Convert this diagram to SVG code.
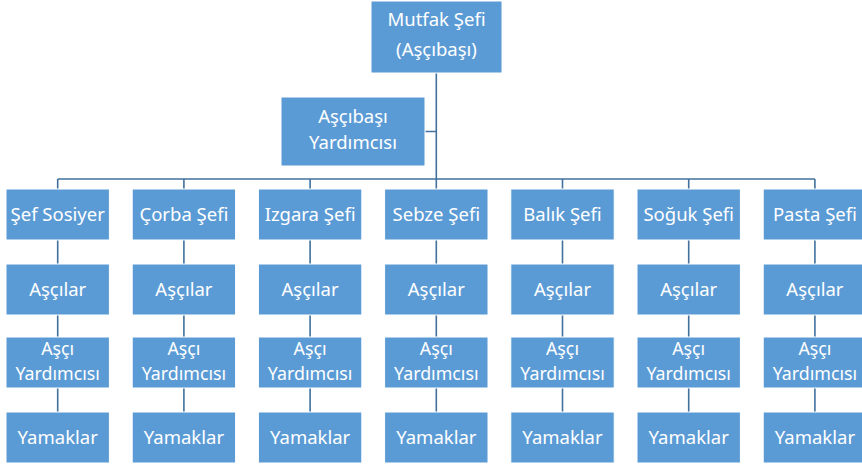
<svg xmlns="http://www.w3.org/2000/svg" width="862" height="466" viewBox="0 0 862 466">
<style>
.box{fill:#5B9BD5;stroke:#FFFFFF;stroke-width:1}
.t{font-family:"Noto Sans","DejaVu Sans",sans-serif;font-size:18.5px;fill:#FFFFFF;text-anchor:middle}
.s{font-size:17.8px}
.c{stroke:#41719C;stroke-width:1.6;fill:none}
</style>
<rect width="862" height="466" fill="#FFFFFF"/>
<g id="connectors">
<path class="c" d="M436.3 73V179M425 131.5H436.3M57.7 179H814.9"/>
<path class="c" d="M57.7 179V189M183.9 179V189M310.1 179V189M436.3 179V189M562.5 179V189M688.7 179V189M814.9 179V189"/>
<path class="c" d="M57.7 240V264M57.7 315V337M57.7 388V412"/>
<path class="c" d="M183.9 240V264M183.9 315V337M183.9 388V412"/>
<path class="c" d="M310.1 240V264M310.1 315V337M310.1 388V412"/>
<path class="c" d="M436.3 240V264M436.3 315V337M436.3 388V412"/>
<path class="c" d="M562.5 240V264M562.5 315V337M562.5 388V412"/>
<path class="c" d="M688.7 240V264M688.7 315V337M688.7 388V412"/>
<path class="c" d="M814.9 240V264M814.9 315V337M814.9 388V412"/>
</g>
<g id="mutfak-sefi"><rect class="box" x="371" y="1" width="131" height="72"/><text class="t" x="436.5" y="26">Mutfak Şefi</text><text class="t" x="436.5" y="56">(Aşçıbaşı)</text></g>
<g id="ascibasi-yardimcisi"><rect class="box" x="281" y="97" width="144" height="69"/><text class="t" x="353" y="123">Aşçıbaşı</text><text class="t" x="353" y="148.5">Yardımcısı</text></g>

<g id="sef-sosiyer"><rect class="box" x="6" y="189" width="103.4" height="51"/><text class="t" x="57.7" y="221">Şef Sosiyer</text></g>
<g id="corba-sefi"><rect class="box" x="132.2" y="189" width="103.4" height="51"/><text class="t" x="183.9" y="221">Çorba Şefi</text></g>
<g id="izgara-sefi"><rect class="box" x="258.4" y="189" width="103.4" height="51"/><text class="t" x="310.1" y="221">Izgara Şefi</text></g>
<g id="sebze-sefi"><rect class="box" x="384.6" y="189" width="103.4" height="51"/><text class="t" x="436.3" y="221">Sebze Şefi</text></g>
<g id="balik-sefi"><rect class="box" x="510.8" y="189" width="103.4" height="51"/><text class="t" x="562.5" y="221">Balık Şefi</text></g>
<g id="soguk-sefi"><rect class="box" x="637" y="189" width="103.4" height="51"/><text class="t" x="688.7" y="221">Soğuk Şefi</text></g>
<g id="pasta-sefi"><rect class="box" x="763.2" y="189" width="103.4" height="51"/><text class="t" x="814.9" y="221">Pasta Şefi</text></g>

<g id="ascilar-1"><rect class="box" x="6" y="264" width="103.4" height="51"/><text class="t" x="57.7" y="296">Aşçılar</text></g>
<g id="ascilar-2"><rect class="box" x="132.2" y="264" width="103.4" height="51"/><text class="t" x="183.9" y="296">Aşçılar</text></g>
<g id="ascilar-3"><rect class="box" x="258.4" y="264" width="103.4" height="51"/><text class="t" x="310.1" y="296">Aşçılar</text></g>
<g id="ascilar-4"><rect class="box" x="384.6" y="264" width="103.4" height="51"/><text class="t" x="436.3" y="296">Aşçılar</text></g>
<g id="ascilar-5"><rect class="box" x="510.8" y="264" width="103.4" height="51"/><text class="t" x="562.5" y="296">Aşçılar</text></g>
<g id="ascilar-6"><rect class="box" x="637" y="264" width="103.4" height="51"/><text class="t" x="688.7" y="296">Aşçılar</text></g>
<g id="ascilar-7"><rect class="box" x="763.2" y="264" width="103.4" height="51"/><text class="t" x="814.9" y="296">Aşçılar</text></g>

<g id="asci-yardimcisi-1"><rect class="box" x="6" y="337" width="103.4" height="51"/><text class="t s" x="57.7" y="355">Aşçı</text><text class="t s" x="57.7" y="380">Yardımcısı</text></g>
<g id="asci-yardimcisi-2"><rect class="box" x="132.2" y="337" width="103.4" height="51"/><text class="t s" x="183.9" y="355">Aşçı</text><text class="t s" x="183.9" y="380">Yardımcısı</text></g>
<g id="asci-yardimcisi-3"><rect class="box" x="258.4" y="337" width="103.4" height="51"/><text class="t s" x="310.1" y="355">Aşçı</text><text class="t s" x="310.1" y="380">Yardımcısı</text></g>
<g id="asci-yardimcisi-4"><rect class="box" x="384.6" y="337" width="103.4" height="51"/><text class="t s" x="436.3" y="355">Aşçı</text><text class="t s" x="436.3" y="380">Yardımcısı</text></g>
<g id="asci-yardimcisi-5"><rect class="box" x="510.8" y="337" width="103.4" height="51"/><text class="t s" x="562.5" y="355">Aşçı</text><text class="t s" x="562.5" y="380">Yardımcısı</text></g>
<g id="asci-yardimcisi-6"><rect class="box" x="637" y="337" width="103.4" height="51"/><text class="t s" x="688.7" y="355">Aşçı</text><text class="t s" x="688.7" y="380">Yardımcısı</text></g>
<g id="asci-yardimcisi-7"><rect class="box" x="763.2" y="337" width="103.4" height="51"/><text class="t s" x="814.9" y="355">Aşçı</text><text class="t s" x="814.9" y="380">Yardımcısı</text></g>

<g id="yamaklar-1"><rect class="box" x="6" y="412" width="103.4" height="51"/><text class="t" x="57.7" y="444">Yamaklar</text></g>
<g id="yamaklar-2"><rect class="box" x="132.2" y="412" width="103.4" height="51"/><text class="t" x="183.9" y="444">Yamaklar</text></g>
<g id="yamaklar-3"><rect class="box" x="258.4" y="412" width="103.4" height="51"/><text class="t" x="310.1" y="444">Yamaklar</text></g>
<g id="yamaklar-4"><rect class="box" x="384.6" y="412" width="103.4" height="51"/><text class="t" x="436.3" y="444">Yamaklar</text></g>
<g id="yamaklar-5"><rect class="box" x="510.8" y="412" width="103.4" height="51"/><text class="t" x="562.5" y="444">Yamaklar</text></g>
<g id="yamaklar-6"><rect class="box" x="637" y="412" width="103.4" height="51"/><text class="t" x="688.7" y="444">Yamaklar</text></g>
<g id="yamaklar-7"><rect class="box" x="763.2" y="412" width="103.4" height="51"/><text class="t" x="814.9" y="444">Yamaklar</text></g>
</svg>
